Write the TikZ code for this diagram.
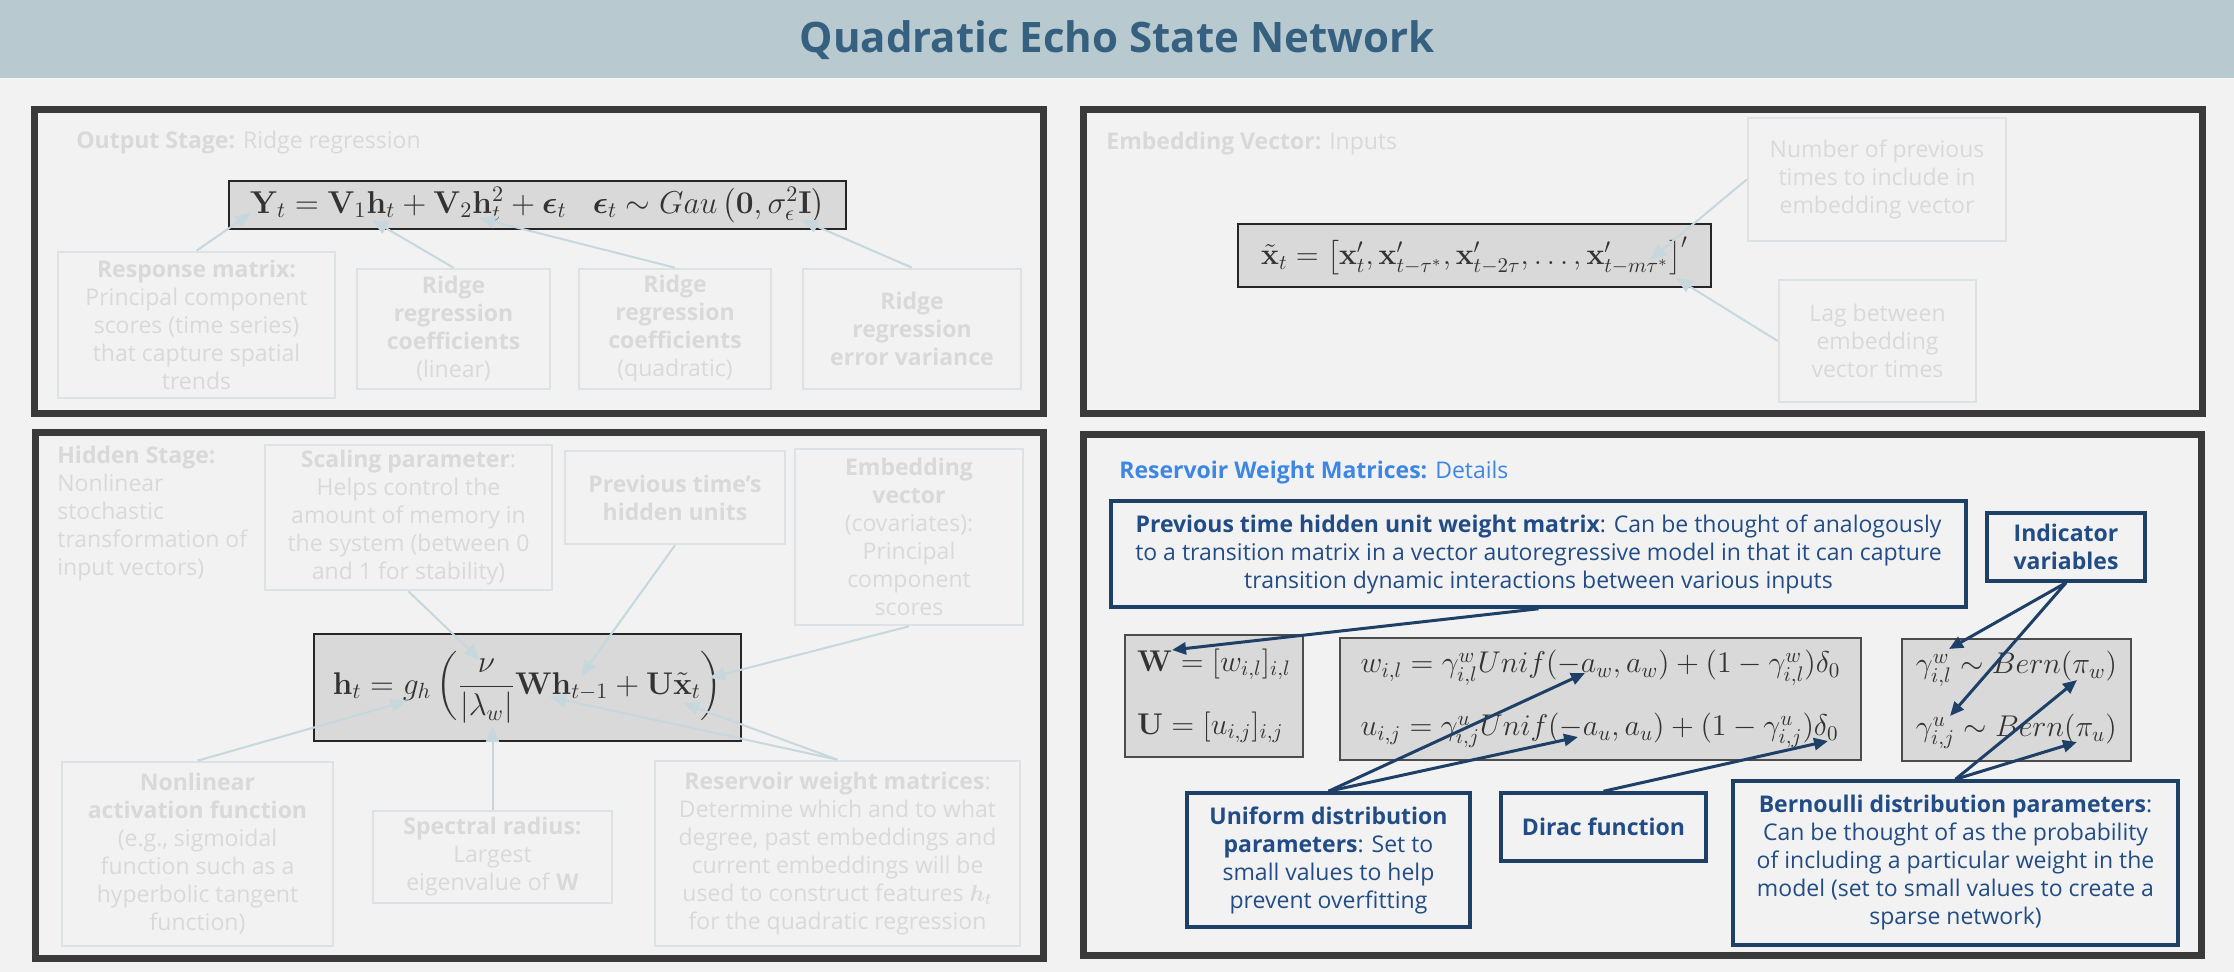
\RequirePackage{fix-cm}
\documentclass[tikz,border=0pt]{standalone}
\usepackage{amsmath}
\usepackage[no-math]{fontspec}
\setmainfont{Open Sans}
\usetikzlibrary{arrows.meta}

\definecolor{bgc}{HTML}{F2F2F2}
\definecolor{bannerc}{HTML}{B9C9D0}
\definecolor{titlec}{HTML}{35607F}
\definecolor{panelc}{HTML}{3A3A3A}
\definecolor{fadetextc}{HTML}{D9D9D9}
\definecolor{fadeboxc}{HTML}{DDE2E5}
\definecolor{fadearrowc}{HTML}{C6D8DE}
\definecolor{eqfillc}{HTML}{D9D9D9}
\definecolor{mathc}{HTML}{333333}
\definecolor{navyc}{HTML}{1E3F66}
\definecolor{navytextc}{HTML}{224C86}
\definecolor{headbluec}{HTML}{3E86E4}

\newcommand{\fs}{\fontsize{11.5}{14}\selectfont}
\newcommand{\ms}{\fontsize{15}{31.5}\selectfont}

\tikzset{
  sz/.style 2 args={minimum width=#1*0.5pt, minimum height=#2*0.5pt},
  panel/.style={draw=panelc, line width=3.5pt},
  fadebox/.style={draw=fadeboxc, line width=1.3pt, inner sep=0pt, text=fadetextc, align=center, font=\fs},
  fadetxt/.style={inner sep=0pt, text=fadetextc, font=\fs},
  eqbox/.style={draw=black!85, line width=1pt, fill=eqfillc, inner sep=0pt, text=mathc, font=\ms},
  eqboxr/.style={draw=black!70, line width=1pt, fill=eqfillc, inner sep=0pt, text=mathc, font=\ms, align=left},
  navybox/.style={draw=navyc, line width=1.75pt, inner sep=0pt, text=navytextc, align=center, font=\fs},
  fadearr/.style={draw=fadearrowc, line width=1pt, -{Triangle[length=8pt,width=6.5pt]}},
  navyarr/.style={draw=navyc, line width=1.5pt, -{Triangle[length=7pt,width=6pt]}},
}

\begin{document}
\begin{tikzpicture}[x=0.5pt,y=-0.5pt]
\fill[bgc] (0,0) rectangle (2234,972);
\useasboundingbox (0,0) rectangle (2234,972);

% banner
\fill[bannerc] (0,0) rectangle (2234,78);
\node[anchor=base, text=titlec, font=\fontsize{21}{24}\selectfont\bfseries, inner sep=0pt] (title) at (1117,53) {Quadratic Echo State Network};

% panels
\draw[panel] (34.5,109.5) rectangle (1043.5,413.5);
\draw[panel] (1083.5,109.5) rectangle (2202.5,413.5);
\draw[panel] (35.5,432.5) rectangle (1043.5,958.5);
\draw[panel] (1083.5,434.5) rectangle (2201.5,955.5);

% ---------- Output stage ----------
\node[fadetxt, anchor=base west] (h1) at (76,149) {\textbf{Output Stage:} Ridge regression};
\node[eqbox, sz={617}{48}, font=\fontsize{15.8}{18}\selectfont] (eq1) at (537.5,205) {$\mathbf{Y}_t = \mathbf{V}_1\mathbf{h}_t + \mathbf{V}_2\mathbf{h}_t^2 + \boldsymbol{\epsilon}_t \;\;\; \boldsymbol{\epsilon}_t \sim Gau\left(\mathbf{0}, \sigma_\epsilon^2\mathbf{I}\right)$};
\node[fadebox, sz={277}{146}] (r1) at (196.5,325) {\textbf{Response matrix:}\\Principal component\\scores (time series)\\that capture spatial\\trends};
\node[fadebox, sz={193}{120}] (r2) at (453.5,329) {\textbf{Ridge}\\\textbf{regression}\\\textbf{coefficients}\\(linear)};
\node[fadebox, sz={192}{120}] (r3) at (675,329) {\textbf{Ridge}\\\textbf{regression}\\\textbf{coefficients}\\(quadratic)};
\node[fadebox, sz={218}{120}] (r4) at (912,329) {\textbf{Ridge}\\\textbf{regression}\\\textbf{error variance}};
\coordinate (t1) at (251,213);
\coordinate (t2) at (372,220);
\coordinate (t3) at (479,218);
\coordinate (t4) at (802,220);
\draw[fadearr] (r1.north) -- (t1);
\draw[fadearr] (r2.north) -- (t2);
\draw[fadearr] (r3.north) -- (t3);
\draw[fadearr] (r4.north) -- (t4);

% ---------- Embedding vector ----------
\node[fadetxt, anchor=base west] (h2) at (1106,150) {\textbf{Embedding Vector:} Inputs};
\node[eqbox, sz={473}{63}] (eq2) at (1474.5,255.5) {$\tilde{\mathbf{x}}_t = \left[\mathbf{x}'_t, \mathbf{x}'_{t-\tau^*}, \mathbf{x}'_{t-2\tau}, \ldots, \mathbf{x}'_{t-m\tau^*}\right]'$};
\node[fadebox, sz={258}{123}] (nb) at (1877,179.5) {Number of previous\\times to include in\\embedding vector};
\node[fadebox, sz={197}{122}] (lb) at (1877.5,341) {Lag between\\embedding\\vector times};
\coordinate (t5) at (1650,260);
\coordinate (t6) at (1676,278);
\draw[fadearr] (nb.west) -- (t5);
\draw[fadearr] (lb.west) -- (t6);

% ---------- Hidden stage ----------
\node[fadetxt, anchor=west, align=left] (h3) at (57,514) {\textbf{Hidden Stage:}\\Nonlinear\\stochastic\\transformation of\\input vectors)};
\node[fadebox, sz={287}{145}] (sc) at (408.5,517.5) {\textbf{Scaling parameter}:\\Helps control the\\amount of memory in\\the system (between 0\\and 1 for stability)};
\node[fadebox, sz={220}{93}] (pv) at (675,497.5) {\textbf{Previous time’s}\\\textbf{hidden units}};
\node[fadebox, sz={228}{176}] (ev) at (909,537) {\textbf{Embedding}\\\textbf{vector}\\(covariates):\\Principal\\component\\scores};
\node[eqbox, sz={427}{107}, font=\fontsize{15.7}{18}\selectfont] (eq3) at (527.5,687.5) {$\mathbf{h}_t = g_h\left(\dfrac{\nu}{|\lambda_w|}\mathbf{W}\mathbf{h}_{t-1} + \mathbf{U}\tilde{\mathbf{x}}_t\right)$};
\node[fadebox, sz={271}{184}] (nl) at (197.5,854) {\textbf{Nonlinear}\\\textbf{activation function}\\(e.g., sigmoidal\\function such as a\\hyperbolic tangent\\function)};
\node[fadebox, sz={239}{92}] (sr) at (492.5,857) {\textbf{Spectral radius:}\\Largest\\eigenvalue of \textbf{W}};
\node[fadebox, sz={365}{185}] (rw) at (837.5,853.5) {\textbf{Reservoir weight matrices}:\\Determine which and to what\\degree, past embeddings and\\current embeddings will be\\used to construct features $\boldsymbol{h_t}$\\for the quadratic regression};
\coordinate (t7) at (480,660);
\coordinate (t8) at (581,676);
\coordinate (t9) at (709,678);
\coordinate (t10) at (407,701);
\coordinate (t11) at (492.5,726);
\coordinate (t12) at (550,697);
\coordinate (t13) at (683,703);
\draw[fadearr] (sc.south) -- (t7);
\draw[fadearr] (pv.south) -- (t8);
\draw[fadearr] (ev.south) -- (t9);
\draw[fadearr] (nl.north) -- (t10);
\draw[fadearr] (sr.north) -- (t11);
\draw[fadearr] (rw.north) -- (t12);
\draw[fadearr] (rw.north) -- (t13);

% ---------- Reservoir weight matrices ----------
\node[anchor=base west, inner sep=0pt, text=headbluec, font=\fs] (h4) at (1119,479) {\textbf{Reservoir Weight Matrices:} Details};
\node[navybox, sz={855}{106}] (pt) at (1538.5,554) {\textbf{Previous time hidden unit weight matrix}: Can be thought of analogously\\to a transition matrix in a vector autoregressive model in that it can capture\\transition dynamic interactions between various inputs};
\node[navybox, sz={158}{68}] (iv) at (2066,547) {\textbf{Indicator}\\\textbf{variables}};
\node[eqboxr, sz={178}{122}] (wu) at (1214,696) {$\mathbf{W} = [w_{i,l}]_{i,l}$\\$\mathbf{U} = [u_{i,j}]_{i,j}$};
\node[eqboxr, sz={521}{122}] (md) at (1600.5,699) {$w_{i,l} = \gamma^w_{i,l}Unif(-a_w, a_w) + (1-\gamma^w_{i,l})\delta_0$\\$u_{i,j} = \gamma^u_{i,j}Unif(-a_u, a_u) + (1-\gamma^u_{i,j})\delta_0$};
\node[eqboxr, sz={229}{122}] (bn) at (2016.5,700) {$\gamma^w_{i,l} \sim Bern(\pi_w)$\\$\gamma^u_{i,j} \sim Bern(\pi_u)$};
\node[navybox, sz={283}{134}] (ud) at (1328.5,860) {\textbf{Uniform distribution}\\\textbf{parameters}: Set to\\small values to help\\prevent overfitting};
\node[navybox, sz={205}{68}] (df) at (1603.5,827) {\textbf{Dirac function}};
\node[navybox, sz={445}{164}] (bd) at (1955.5,863) {\textbf{Bernoulli distribution parameters}:\\Can be thought of as the probability\\of including a particular weight in the\\model (set to small values to create a\\sparse network)};
\coordinate (u1) at (1172,650);
\coordinate (u2) at (1949,649);
\coordinate (u3) at (1950,716);
\coordinate (u4) at (1585,673);
\coordinate (u5) at (1578,737);
\coordinate (u6) at (1828,741);
\coordinate (u7) at (2077,680);
\coordinate (u8) at (2077,742);
\draw[navyarr] (pt.south) -- (u1);
\draw[navyarr] (iv.south) -- (u2);
\draw[navyarr] (iv.south) -- (u3);
\draw[navyarr] (ud.north) -- (u4);
\draw[navyarr] (ud.north) -- (u5);
\draw[navyarr] (df.north) -- (u6);
\draw[navyarr] (bd.north) -- (u7);
\draw[navyarr] (bd.north) -- (u8);
\end{tikzpicture}
\end{document}
